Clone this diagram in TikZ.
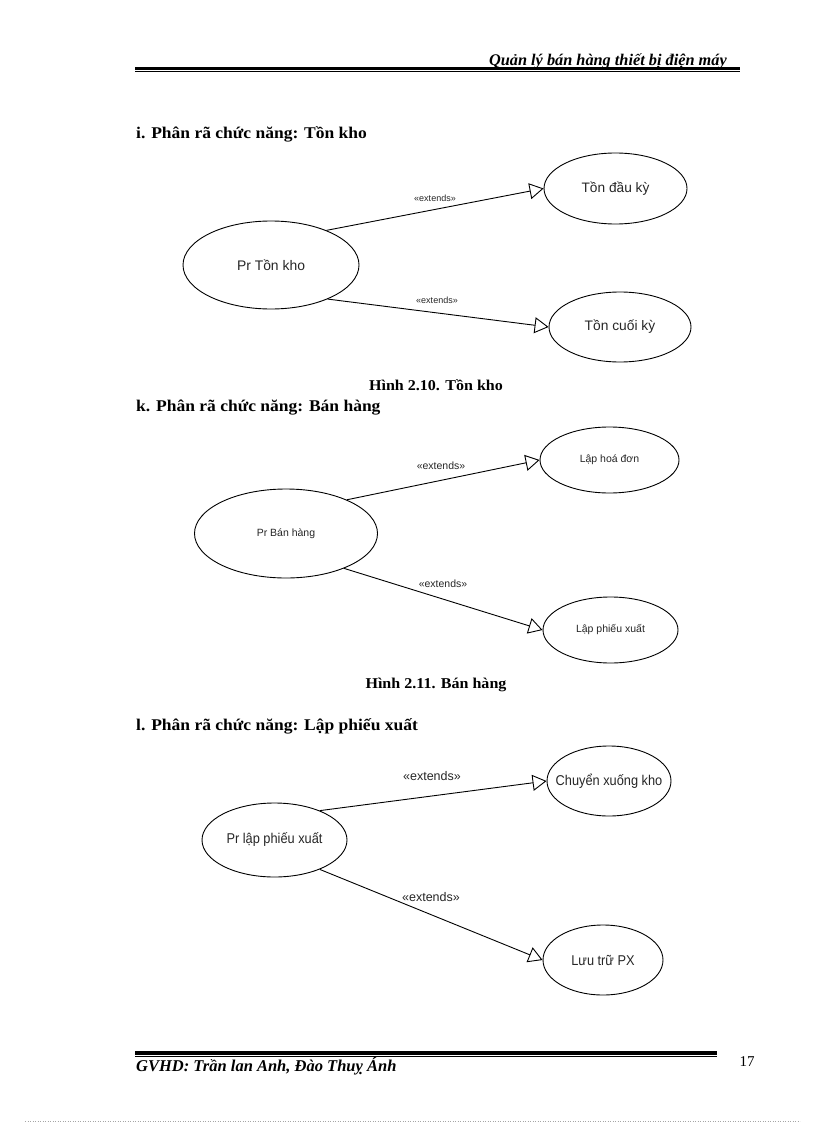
\documentclass[tikz,border=0pt]{standalone}
\usepackage{fontspec}
\setmainfont{Liberation Serif}
\newfontfamily\dgmfont{Liberation Sans}
\newfontfamily\dgmnarrow[FakeStretch=0.9]{Liberation Sans}
\newfontfamily\headfont[FakeStretch=1.07]{Liberation Serif}
\usetikzlibrary{arrows.meta,shapes.geometric}
\newcommand{\zw}[1]{\makebox[0pt][c]{#1}}
\tikzset{
  uc/.style={ellipse,draw=black,line width=0.9pt,inner sep=0pt,fill=white},
  ext/.style={draw=black,line width=0.9pt,-{Triangle[open,length=14pt,width=16pt,fill=white]}},
  lbl/.style={font=\dgmfont\fontsize{#1}{#1}\selectfont,text=black!85,inner sep=0pt},
  lbn/.style={font=\dgmnarrow\fontsize{#1}{#1}\selectfont,text=black!85,inner sep=0pt},
  head/.style={anchor=west,font=\headfont\bfseries\fontsize{16.35}{17}\selectfont,inner sep=0pt},
  figcap/.style={font=\headfont\bfseries\fontsize{15}{16}\selectfont,inner sep=0pt},
  foot/.style={font=\bfseries\itshape\fontsize{#1}{17}\selectfont,inner sep=0pt}
}
\begin{document}
\begin{tikzpicture}[x=1pt,y=-1pt]
\useasboundingbox (0,0) rectangle (816,1123);
% header
\node[foot=16.3,anchor=east] (hdr) at (727,61) {Quản lý bán hàng thiết bị điện máy};
\fill (135,67.5) rectangle (740,70);
\fill (135,71) rectangle (740,72);
% headings
\node[head] (h1) at (136,134) {i. Phân rã chức năng: Tồn kho};
\node[figcap] (c1) at (436,385) {Hình 2.10. Tồn kho};
\node[head] (h2) at (136,408) {k. Phân rã chức năng: Bán hàng};
\node[figcap] (c2) at (436,685) {Hình 2.11. Bán hàng};
\node[head] (h3) at (136,726) {l. Phân rã chức năng: Lập phiếu xuất};
% diagram 1
\node[uc,minimum width=176pt,minimum height=88pt,lbl=13.9] (a) at (271,265) {\zw{Pr Tồn kho}};
\node[uc,minimum width=143pt,minimum height=71pt,lbl=13.7] (a1) at (615.5,188.5) {\zw{Tồn đầu kỳ}};
\node[uc,minimum width=142pt,minimum height=70pt,lbl=13.8] (a2) at (620,327) {\zw{Tồn cuối kỳ}};
\draw[ext] (a.32) -- (a1.west);
\draw[ext] (a.-31) -- (a2.west);
\node[lbl=9] (la1) at (435,198) {«extends»};
\node[lbl=9] (la2) at (437,300) {«extends»};
% diagram 2
\node[uc,minimum width=183pt,minimum height=89pt,lbl=10.5] (b) at (286,533.5) {\zw{Pr Bán hàng}};
\node[uc,minimum width=139pt,minimum height=66pt,lbl=10.5] (b1) at (609.5,460) {\zw{Lập hoá đơn}};
\node[uc,minimum width=135pt,minimum height=66pt,lbl=10.5] (b2) at (610.5,630) {\zw{Lập phiếu xuất}};
\draw[ext] (b.29) -- (b1.west);
\draw[ext] (b.-31) -- (b2.west);
\node[lbl=10.5] (lb1) at (441,466) {«extends»};
\node[lbl=10.5] (lb2) at (443,584) {«extends»};
% diagram 3
\node[uc,minimum width=145pt,minimum height=74pt,lbn=14.2] (d) at (274.5,840) {\zw{Pr lập phiếu xuất}};
\node[uc,minimum width=124pt,minimum height=70pt,lbn=14.2] (d1) at (609,781) {\zw{Chuyển xuống kho}};
\node[uc,minimum width=120pt,minimum height=70pt,lbn=14.2] (d2) at (603,960) {\zw{Lưu trữ PX}};
\draw[ext] (d.33) -- (d1.west);
\draw[ext] (d.-33) -- (d2.west);
\node[lbl=12.5] (ld1) at (432,776) {«extends»};
\node[lbl=12.5] (ld2) at (431,897) {«extends»};
% footer
\fill (135,1051) rectangle (717,1055);
\fill (135,1056) rectangle (717,1057);
\node[foot=16.5,anchor=west] (ftr) at (136,1066.5) {GVHD: Trần lan Anh, Đào Thuỵ Ánh};
\node[font=\fontsize{15}{17}\selectfont,inner sep=0pt] (pg) at (747,1062) {17};
\draw[black!35,line width=0.5pt,dotted] (25,1121.5) -- (800,1121.5);
\end{tikzpicture}
\end{document}
